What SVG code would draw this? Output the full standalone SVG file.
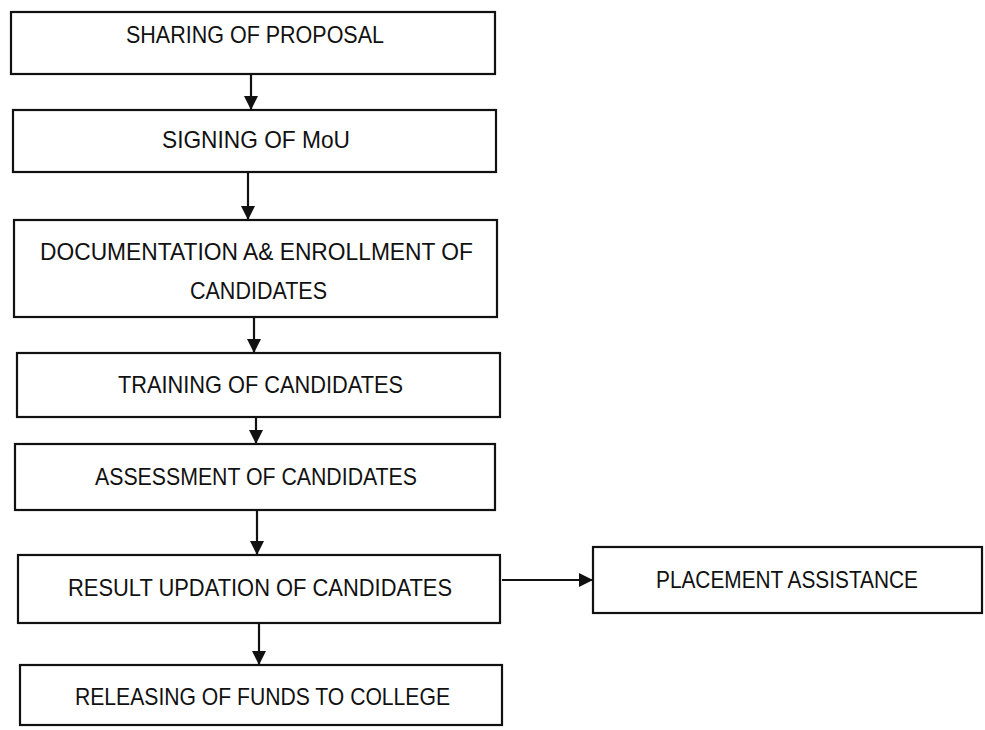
<svg xmlns="http://www.w3.org/2000/svg" width="985" height="730" viewBox="0 0 985 730">
<defs>
<marker id="ah" markerWidth="14" markerHeight="14" refX="14" refY="7" orient="auto" markerUnits="userSpaceOnUse">
<path d="M0,0 L14,7 L0,14 Z" fill="#111"/>
</marker>
<style>
.box{fill:#fff;stroke:#111;stroke-width:2.2}
.t{font-family:"Liberation Sans",Arial,sans-serif;font-size:24px;fill:#111}
.c{stroke:#111;stroke-width:2.2;fill:none}
</style>
</defs>
<rect width="985" height="730" fill="#fff"/>
<g id="n1"><rect class="box" x="11" y="12" width="484" height="62"/><text class="t" x="126" y="43" textLength="258" lengthAdjust="spacingAndGlyphs">SHARING OF PROPOSAL</text></g>
<g id="n2"><rect class="box" x="13" y="110" width="483" height="62"/><text class="t" x="162" y="148" textLength="188" lengthAdjust="spacingAndGlyphs">SIGNING OF MoU</text></g>
<g id="n3"><rect class="box" x="14" y="220" width="483" height="97"/><text class="t" x="40" y="260" textLength="433" lengthAdjust="spacingAndGlyphs">DOCUMENTATION A&amp; ENROLLMENT OF</text><text class="t" x="190" y="299" textLength="137" lengthAdjust="spacingAndGlyphs">CANDIDATES</text></g>
<g id="n4"><rect class="box" x="17" y="353" width="483" height="64"/><text class="t" x="118" y="393" textLength="285" lengthAdjust="spacingAndGlyphs">TRAINING OF CANDIDATES</text></g>
<g id="n5"><rect class="box" x="15" y="444" width="480" height="66"/><text class="t" x="95" y="485" textLength="322" lengthAdjust="spacingAndGlyphs">ASSESSMENT OF CANDIDATES</text></g>
<g id="n6"><rect class="box" x="18" y="555" width="482" height="68"/><text class="t" x="68" y="596" textLength="384" lengthAdjust="spacingAndGlyphs">RESULT UPDATION OF CANDIDATES</text></g>
<g id="n7"><rect class="box" x="20" y="665" width="482" height="60"/><text class="t" x="75" y="705" textLength="375" lengthAdjust="spacingAndGlyphs">RELEASING OF FUNDS TO COLLEGE</text></g>
<g id="n8"><rect class="box" x="593" y="547" width="389" height="66"/><text class="t" x="656" y="588" textLength="262" lengthAdjust="spacingAndGlyphs">PLACEMENT ASSISTANCE</text></g>
<g id="connectors">
<line class="c" x1="251" y1="74" x2="251" y2="110" marker-end="url(#ah)"/>
<line class="c" x1="248" y1="172" x2="248" y2="220" marker-end="url(#ah)"/>
<line class="c" x1="254" y1="317" x2="254" y2="353" marker-end="url(#ah)"/>
<line class="c" x1="256" y1="417" x2="256" y2="444" marker-end="url(#ah)"/>
<line class="c" x1="257" y1="510" x2="257" y2="555" marker-end="url(#ah)"/>
<line class="c" x1="259" y1="623" x2="259" y2="665" marker-end="url(#ah)"/>
<line class="c" x1="502" y1="580" x2="593" y2="580" marker-end="url(#ah)"/>
</g>
</svg>
